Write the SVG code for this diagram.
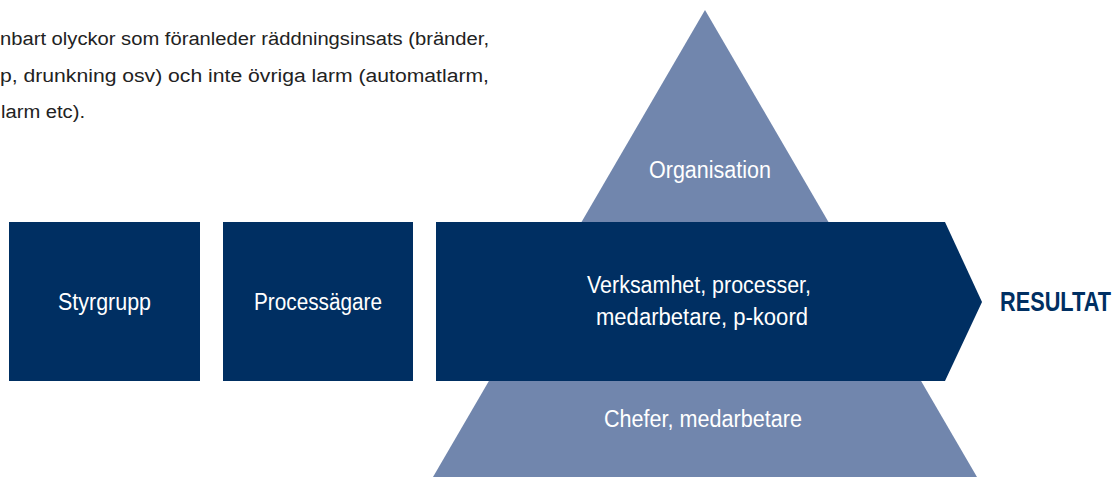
<svg xmlns="http://www.w3.org/2000/svg" width="1115" height="477" viewBox="0 0 1115 477">
<style>
.dark{fill:#002F62}
.light{fill:#7186AD}
.t{font-family:"Liberation Sans",Arial,sans-serif;fill:#ffffff;font-size:23px;text-anchor:middle}
.body{font-family:"Liberation Sans",Arial,sans-serif;fill:#222222;font-size:18px}
.res{font-family:"Liberation Sans",Arial,sans-serif;fill:#002F62;font-size:28px;font-weight:bold}
</style>
<rect width="1115" height="477" fill="#ffffff"/>
<g id="intro-text">
<text class="body" x="0" y="45" textLength="489" lengthAdjust="spacingAndGlyphs">nbart olyckor som föranleder räddningsinsats (bränder,</text>
<text class="body" x="0" y="82" textLength="489" lengthAdjust="spacingAndGlyphs">p, drunkning osv) och inte övriga larm (automatlarm,</text>
<text class="body" x="1" y="118" textLength="84" lengthAdjust="spacingAndGlyphs">larm etc).</text>
</g>
<g id="pyramid">
<polygon class="light" points="705,10 433,477 977,477"/>
</g>
<g id="organisation">
<text class="t" x="710" y="178" textLength="122" lengthAdjust="spacingAndGlyphs">Organisation</text>
</g>
<g id="chefer">
<text class="t" x="703" y="427" textLength="198" lengthAdjust="spacingAndGlyphs">Chefer, medarbetare</text>
</g>
<g id="styrgrupp">
<rect class="dark" x="9" y="222" width="191" height="159"/>
<text class="t" x="104.5" y="310" textLength="93" lengthAdjust="spacingAndGlyphs">Styrgrupp</text>
</g>
<g id="processagare">
<rect class="dark" x="223" y="222" width="190" height="159"/>
<text class="t" x="318" y="310" textLength="128" lengthAdjust="spacingAndGlyphs">Processägare</text>
</g>
<g id="verksamhet">
<polygon class="dark" points="436,222 945,222 982,302 945,381 436,381"/>
<text class="t" x="699" y="293" textLength="224" lengthAdjust="spacingAndGlyphs">Verksamhet, processer,</text>
<text class="t" x="702" y="325" textLength="212" lengthAdjust="spacingAndGlyphs">medarbetare, p-koord</text>
</g>
<g id="resultat">
<text class="res" x="1000" y="311" textLength="111" lengthAdjust="spacingAndGlyphs">RESULTAT</text>
</g>
<g id="connectors"></g>
</svg>
